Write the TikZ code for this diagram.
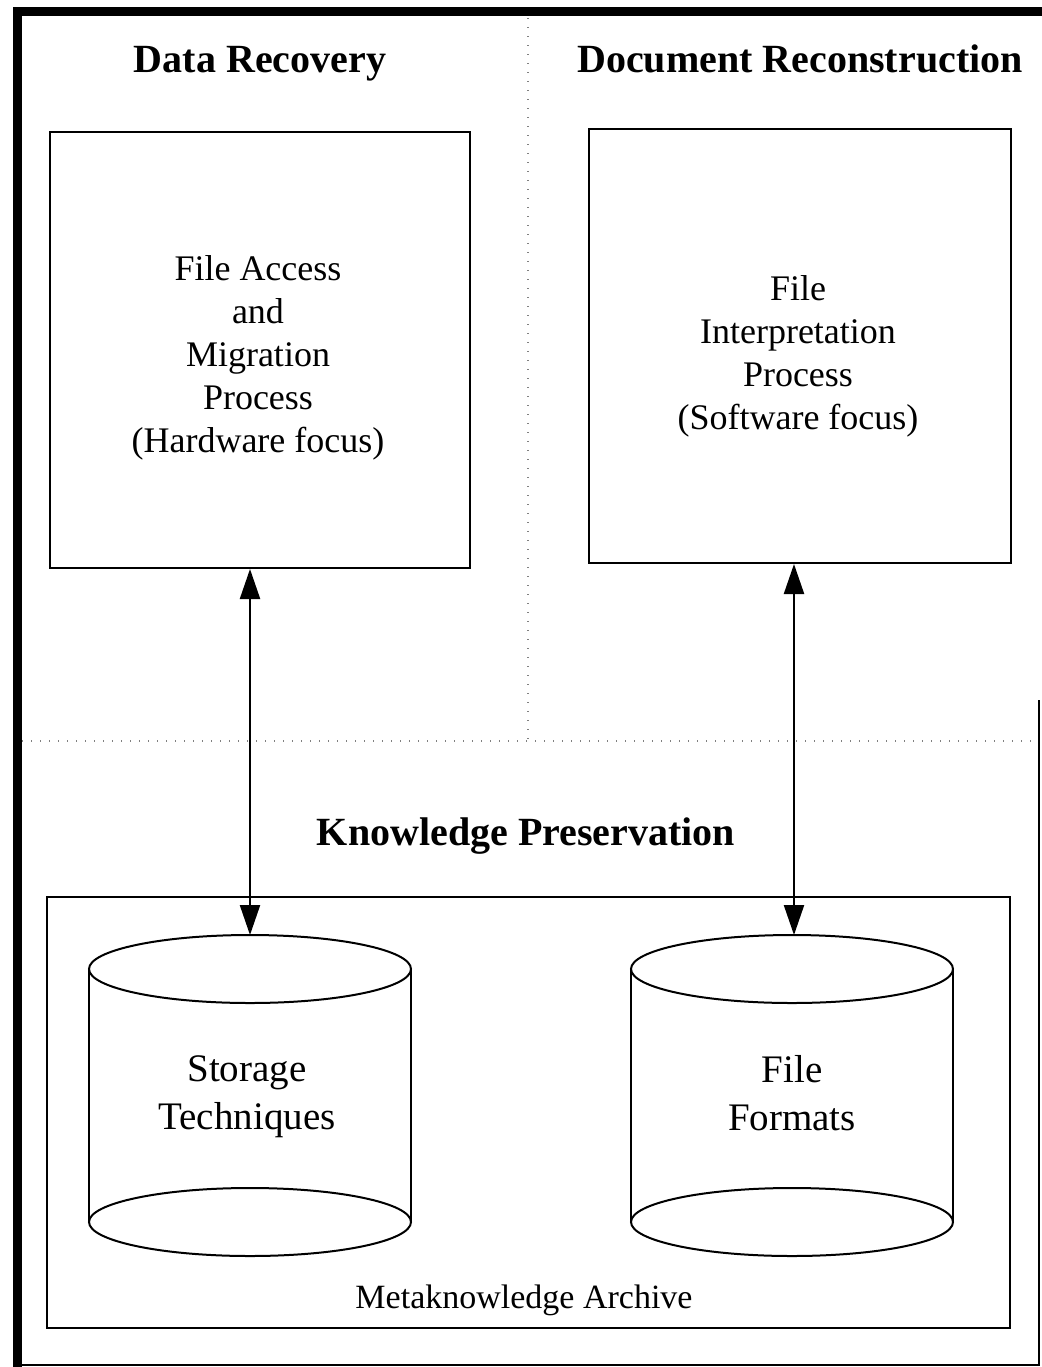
\documentclass[tikz,border=0pt]{standalone}
\usepackage{fontspec}
\setmainfont{Liberation Serif}
\usetikzlibrary{arrows.meta}
\begin{document}
\begin{tikzpicture}[x=0.5pt,y=-0.5pt,
  heading/.style={anchor=base,inner sep=0pt,font=\fontsize{20}{24}\selectfont\bfseries},
  procbox/.style={draw,line width=1pt,inner sep=0pt},
  proctext/.style={align=center,inner sep=0pt,font=\fontsize{18}{21.5}\selectfont},
  cyl/.style={line width=1pt},
  cyltext/.style={align=center,inner sep=0pt,font=\fontsize{19.5}{24}\selectfont},
  link/.style={line width=1.1pt,{Triangle[width=10pt,length=15pt]}-{Triangle[width=10pt,length=15pt]}},
  divider/.style={line width=0.7pt,gray,dash pattern=on 0.7pt off 3.8pt}
]
\useasboundingbox (0,0) rectangle (1042,1367);

% outer frame
\draw[line width=4.5pt] (17.5,1367) -- (17.5,11.5) -- (1042,11.5);
\draw[line width=1pt] (1039,700) -- (1039,1365) -- (17.5,1365);

% dotted dividers
\draw[divider] (528,18) -- (528,741);
\draw[divider] (22,741) -- (1037,741);

% headings
\node[heading] (hdr) at (260,72) {Data Recovery};
\node[heading] (hdoc) at (800,72) {Document Reconstruction};
\node[heading] (hkp) at (526,845) {Knowledge Preservation};

% process boxes
\node[procbox,minimum width=210pt,minimum height=218pt] (fa) at (260,350) {};
\node[proctext] (fatxt) at (258,358)
  {File Access\\and\\Migration\\Process\\(Hardware focus)};
\node[procbox,minimum width=211pt,minimum height=217pt] (fi) at (800,346) {};
\node[proctext] (fitxt) at (798,356)
  {File\\Interpretation\\Process\\(Software focus)};

% archive box
\node[draw,line width=1pt,minimum width=481.5pt,minimum height=215.5pt,inner sep=0pt]
  (arch) at (528.5,1112.5) {};
\node[anchor=base,inner sep=0pt,font=\fontsize{17}{20}\selectfont] (archlbl) at (524,1308)
  {Metaknowledge Archive};

% storage cylinders
\draw[cyl] (89,969) -- (89,1222) (411,969) -- (411,1222);
\draw[cyl] (250,969) ellipse [x radius=161, y radius=34];
\draw[cyl] (250,1222) ellipse [x radius=161, y radius=34];
\coordinate (sttop) at (250,935);
\node[cyltext] (st) at (247,1097) {Storage\\Techniques};

\draw[cyl] (631,969) -- (631,1222) (953,969) -- (953,1222);
\draw[cyl] (792,969) ellipse [x radius=161, y radius=34];
\draw[cyl] (792,1222) ellipse [x radius=161, y radius=34];
\coordinate (fftop) at (794,935);
\node[cyltext] (ff) at (792,1093) {File\\Formats};

% connectors
\draw[link] (sttop |- fa.south) -- (sttop);
\draw[link] (fftop |- fi.south) -- (fftop);
\end{tikzpicture}
\end{document}
